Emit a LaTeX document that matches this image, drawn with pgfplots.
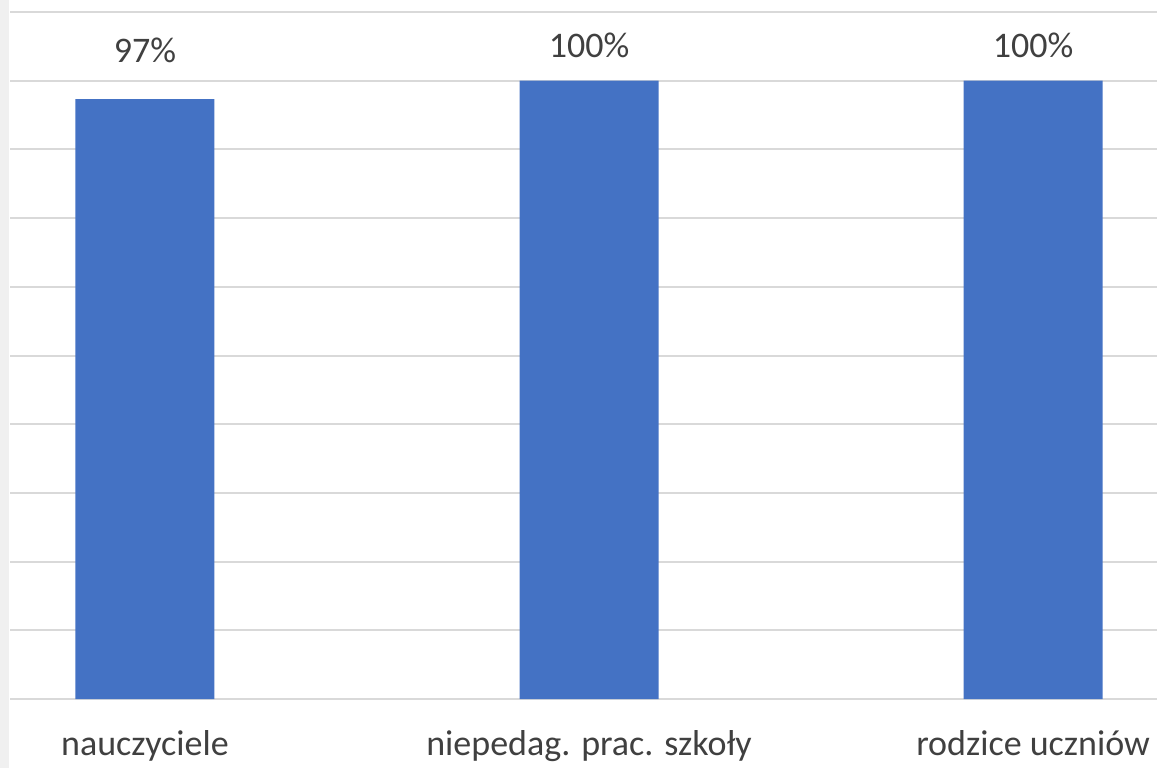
\documentclass[border=0pt]{standalone}
\usepackage{fontspec}
\setmainfont{Carlito}
\usepackage{pgfplots}
\pgfplotsset{compat=1.18}
\definecolor{barblue}{HTML}{4472C4}
\definecolor{gridgray}{HTML}{D9D9D9}
\definecolor{txtgray}{HTML}{404040}
\definecolor{edgegray}{HTML}{F0F0F0}

\begin{document}
\begin{tikzpicture}
\useasboundingbox (-5pt,-34.5pt) rectangle (573.5pt,349.5pt);
\fill[edgegray] (-5pt,-34.5pt) rectangle (-0.5pt,349.5pt);
\begin{axis}[
    at={(0,0)}, anchor=south west,
    scale only axis,
    width=573.5pt, height=343.5pt,
    ybar, bar width=69.5pt,
    xmin=-0.304, xmax=2.279,
    ymin=0, ymax=111.11,
    xtick=data,
    xticklabels={nauczyciele, niepedag. prac. szkoły, rodzice uczniów},
    ytick={0,11.111,...,112}, yticklabels={},
    ymajorgrids,
    major grid style={draw=gridgray, line width=1pt},
    axis line style={draw=none},
    tick style={draw=none},
    xticklabel style={font=\fontsize{18}{21}\selectfont, text=txtgray, anchor=base, inner sep=0pt, yshift=-24pt},
    point meta=y,
    nodes near coords={\pgfmathprintnumber[assume math mode=true]{\pgfplotspointmeta}\%},
    visualization depends on={value \thisrow{dy} \as \dy},
    every node near coord/.append style={font=\fontsize{18}{21}\selectfont, text=txtgray, anchor=base, inner sep=0pt, yshift=\dy pt},
]
\addplot[fill=barblue, draw=none] table {
x y dy
0 97 18.5
1 100 11.75
2 100 11.75
};
\end{axis}
\end{tikzpicture}
\end{document}
